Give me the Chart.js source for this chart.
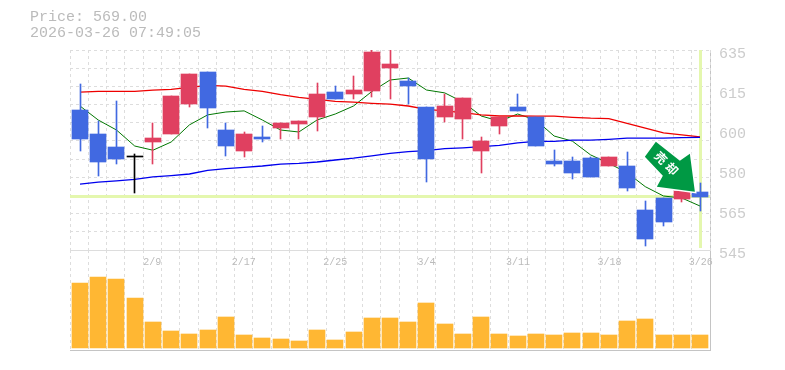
<!DOCTYPE html>
<html>
<head>
<meta charset="utf-8">
<script src="https://cdn.jsdelivr.net/npm/chart.js@4/dist/chart.umd.min.js"></script>
<style>
    html, body { margin: 0; padding: 0; background: #fff; }
    #wrap { position: relative; width: 785px; height: 370px; overflow: hidden; }
    canvas { position: absolute; left: 0; top: 0; }
    #head { position: absolute; left: 30px; top: 10px; font: 15px/16px "Liberation Mono", monospace; color: #bbb; white-space: pre; }
</style>
</head>
<body>
<div id="wrap">
    <canvas id="volChart" width="785" height="370"></canvas>
    <canvas id="priceChart" width="785" height="370"></canvas>
    <div id="head">Price: 569.00
2026-03-26 07:49:05</div>
</div>
<script>
const dates = ['2/3','2/4','2/5','2/6','2/9','2/10','2/12','2/13','2/16','2/17','2/18','2/19','2/20','2/24','2/25','2/26','2/27','3/2','3/3','3/4','3/5','3/6','3/9','3/10','3/11','3/12','3/13','3/16','3/17','3/18','3/19','3/23','3/24','3/25','3/26']
const opens = [608,597,591.5,587.5,593.5,597,610.5,625,599,589.5,596,600,601.5,605,616,615,616.5,627,621,609.5,605,604,589.5,601,609.5,605,585,585,586.5,583,583,563,568.5,568,571]
const closes = [595,584.5,586,587,595.5,614.5,624,609,592,597,595,602,603,615,613,617,634,628.5,619,586,610,613.5,594,605,607.5,592,583.5,579.5,578,587,573,550,557.5,571.5,569]
const highs = [619.5,603,612,588,602,614.5,624,625,602,598,601,602,603,620,619,623.5,635,635,622.5,609.5,615,613.5,596,605,615,605,590,587,587,587,589,567,568.5,571.5,575]
const lows = [589.5,578.5,583.5,570.5,583.5,597,609.5,600,587.5,587,593.5,595,595,598.5,613,613,614,613,610.5,575.5,602.5,595,579.5,597,607.5,592,583,577,578,583,571.5,547,556,566.5,562.5]
const ma5 = [609.8,603.5,599,591.8,589.9,593.6,601.3,605.8,607.1,607.6,603.5,599,598.1,603.5,606.2,609.8,616.3,621.5,622.4,617,615.7,611.6,605.3,603,606.2,603.5,596.3,594,587.8,584,579.8,573.5,569.3,568.4,564.8]
const ma25 = [616,616.4,616.4,616.4,616.9,617.3,618.2,619.1,618.7,617.3,616.4,614.9,613.7,612.8,611.9,611.5,611,610.6,609.8,608.3,607.6,606.8,605.8,605.3,605.3,605.2,605.2,604.7,604.3,604.1,602,599.8,597.7,596.8,595.9]
const ma75 = [574.6,575.5,576.1,576.8,577.9,578.5,579.2,580.8,581.6,582.2,582.8,583.6,584,584.6,585.5,586.3,587.4,588.5,589.3,589.7,590.6,591,591.5,592.1,593.2,593.9,593.9,594.4,594.4,594.8,595.3,595.3,595.3,595.6,595.7]
const volumes = [65,71,69,50,26,17,14,18,31,13,10,9,7,18,8,16,30,30,26,45,24,14,31,14,12,14,13,15,15,13,27,29,13,13,13]
const priceTicks = [635,617,599,581,563,545]
const priceTickLabels = ['635','615','600','580','565','545']
const gridLines = 11
const lastPrice = 569
const arrowText = ['売','却']

const BLUE = '#4169e1'
const RED = '#e04060'
const gridDash = [3, 3]

function candleColor(i) {
    if (i === 3) return '#000'
    return closes[i] > opens[i] ? RED : BLUE
}

// the original keeps its candles 10px in from each side of the frame and has no
// antialiasing on bars, so pull the elements in and snap the bars to whole pixels
const snapBars = {
    id: 'snapBars',
    beforeDatasetsDraw(chart) {
        const a = chart.chartArea
        chart.data.datasets.forEach((ds, n) => {
            const isBar = ds.type === 'bar' || !ds.type
            chart.getDatasetMeta(n).data.forEach((b, i) => {
                b.x = a.left + 10 + i * (a.width - 20) / (dates.length - 1)
                if (!isBar) return
                b.x = b.width % 2 ? Math.floor(b.x) + 0.5 : Math.round(b.x)
                b.y = Math.round(b.y)
                b.base = Math.round(b.base)
            })
        })
    }
}

// pale yellow-green cross at the latest price, behind everything
const priceCross = {
    id: 'priceCross',
    beforeDatasetsDraw(chart) {
        const c = chart.ctx
        const a = chart.chartArea
        const px = Math.round(chart.scales.x.getPixelForValue(dates.length - 1))
        const py = Math.round(chart.scales.y.getPixelForValue(lastPrice))
        c.save()
        c.fillStyle = '#e4f7ae'
        c.fillRect(a.left, py - 2, a.right - a.left, 3)
        c.fillRect(px - 2, a.top, 3, a.bottom - a.top - 2)
        c.restore()
    }
}

// the green arrow, its tip sits just left of the last candle
const arrowMark = {
    id: 'arrowMark',
    afterDatasetsDraw(chart) {
        const c = chart.ctx
        const tx = chart.scales.x.getPixelForValue(dates.length - 1) - 6
        const ty = chart.scales.y.getPixelForValue(lastPrice) - 5
        const shape = [[-39, -50], [-50, -35], [-32, -16], [-38, -5], [0, 0], [-5, -38], [-15, -31]]
        c.save()
        c.translate(tx, ty)
        c.lineJoin = 'miter'
        c.beginPath()
        shape.forEach((p, i) => i ? c.lineTo(p[0], p[1]) : c.moveTo(p[0], p[1]))
        c.closePath()
        c.strokeStyle = '#fff'
        c.lineWidth = 3
        c.stroke()
        c.fillStyle = '#009944'
        c.fill()
        c.fillStyle = '#fff'
        c.font = 'bold 12px "Noto Sans CJK JP"'
        c.textAlign = 'center'
        c.textBaseline = 'middle'
        arrowText.forEach((t, i) => {
            c.save()
            c.translate(-34 + i * 11, -34 + i * 11)
            c.rotate(Math.PI / 4)
            c.fillText(t, 0, 0)
            c.restore()
        })
        c.restore()
    }
}

new Chart(document.getElementById('volChart'), {
    type: 'bar',
    data: {
        labels: dates,
        datasets: [{ data: volumes, backgroundColor: '#ffb733', barThickness: 16 }]
    },
    options: {
        responsive: false,
        animation: false,
        layout: { padding: { left: 70, right: 75, top: 250, bottom: 20 } },
        plugins: { legend: { display: false }, tooltip: { enabled: false } },
        scales: {
            x: {
                offset: true,
                grid: { offset: true, color: '#ddd', drawTicks: false },
                border: { dash: gridDash, color: '#c4c4c4' },
                ticks: { display: false },
                afterFit(s) { s.height = 0 }
            },
            y: {
                min: -2,
                max: 98,
                position: 'right',
                grid: { display: false },
                border: { display: true, color: '#c4c4c4', width: 1 },
                ticks: { display: false },
                afterFit(s) { s.width = 0 }
            }
        }
    },
    plugins: [snapBars, {
        id: 'volFrame',
        beforeDatasetsDraw(chart) {
            const c = chart.ctx
            const a = chart.chartArea
            c.save()
            c.strokeStyle = '#c4c4c4'
            c.beginPath()
            c.moveTo(a.left, a.top + 0.5)
            c.lineTo(a.right, a.top + 0.5)
            c.moveTo(a.left, a.bottom + 0.5)
            c.lineTo(a.right, a.bottom + 0.5)
            c.moveTo(a.right + 0.5, a.top - 200)
            c.lineTo(a.right + 0.5, a.bottom)
            c.stroke()
            c.restore()
        }
    }]
})

new Chart(document.getElementById('priceChart'), {
    type: 'bar',
    data: {
        labels: dates,
        datasets: [
            { type: 'line', data: ma75, borderColor: '#0000ee', borderWidth: 1.3, pointRadius: 0, tension: 0, order: 3 },
            { type: 'line', data: ma25, borderColor: '#ee0000', borderWidth: 1.3, pointRadius: 0, tension: 0, order: 3 },
            { type: 'line', data: ma5, borderColor: '#007700', borderWidth: 1, pointRadius: 0, tension: 0, order: 3 },
            { type: 'bar', data: lows.map((l, i) => [l, highs[i]]), backgroundColor: dates.map((d, i) => candleColor(i)), barThickness: 1, grouped: false, order: 2 },
            { type: 'bar', data: opens.map((o, i) => [o, closes[i]]), backgroundColor: dates.map((d, i) => candleColor(i)), barThickness: 16, grouped: false, order: 1 }
        ]
    },
    options: {
        responsive: false,
        animation: false,
        layout: { padding: { left: 70, right: 0, top: 50, bottom: 90 } },
        plugins: { legend: { display: false }, tooltip: { enabled: false } },
        scales: {
            x: {
                offset: true,
                grid: { offset: true, color: '#ddd', drawTicks: false },
                border: { dash: gridDash, color: '#ddd' },
                ticks: {
                    autoSkip: false,
                    maxRotation: 0,
                    padding: 6,
                    color: '#bbb',
                    font: { family: '"Liberation Mono"', size: 10 },
                    callback(v, i) { return i % 5 === 4 ? dates[i] : '' }
                },
                afterFit(s) { s.height = 30 }
            },
            y: {
                min: 545,
                max: 635,
                position: 'left',
                grid: { color: '#ddd', drawTicks: false },
                border: { display: false, dash: gridDash },
                ticks: { display: false },
                afterBuildTicks(s) {
                    s.ticks = Array.from({ length: gridLines + 1 }, (_, i) => ({ value: 545 + i * 90 / gridLines }))
                },
                afterFit(s) { s.width = 0 }
            },
            y2: {
                min: 545,
                max: 635,
                position: 'right',
                grid: { display: false, drawTicks: false },
                border: { display: false },
                ticks: {
                    padding: 9,
                    labelOffset: 4,
                    color: '#ccc',
                    font: { family: '"Liberation Mono"', size: 15 },
                    callback(v) { return priceTickLabels[priceTicks.indexOf(v)] }
                },
                afterBuildTicks(s) { s.ticks = priceTicks.map(v => ({ value: v })) },
                afterFit(s) { s.width = 75 }
            }
        }
    },
    plugins: [priceCross, snapBars, arrowMark]
})
</script>
</body>
</html>
